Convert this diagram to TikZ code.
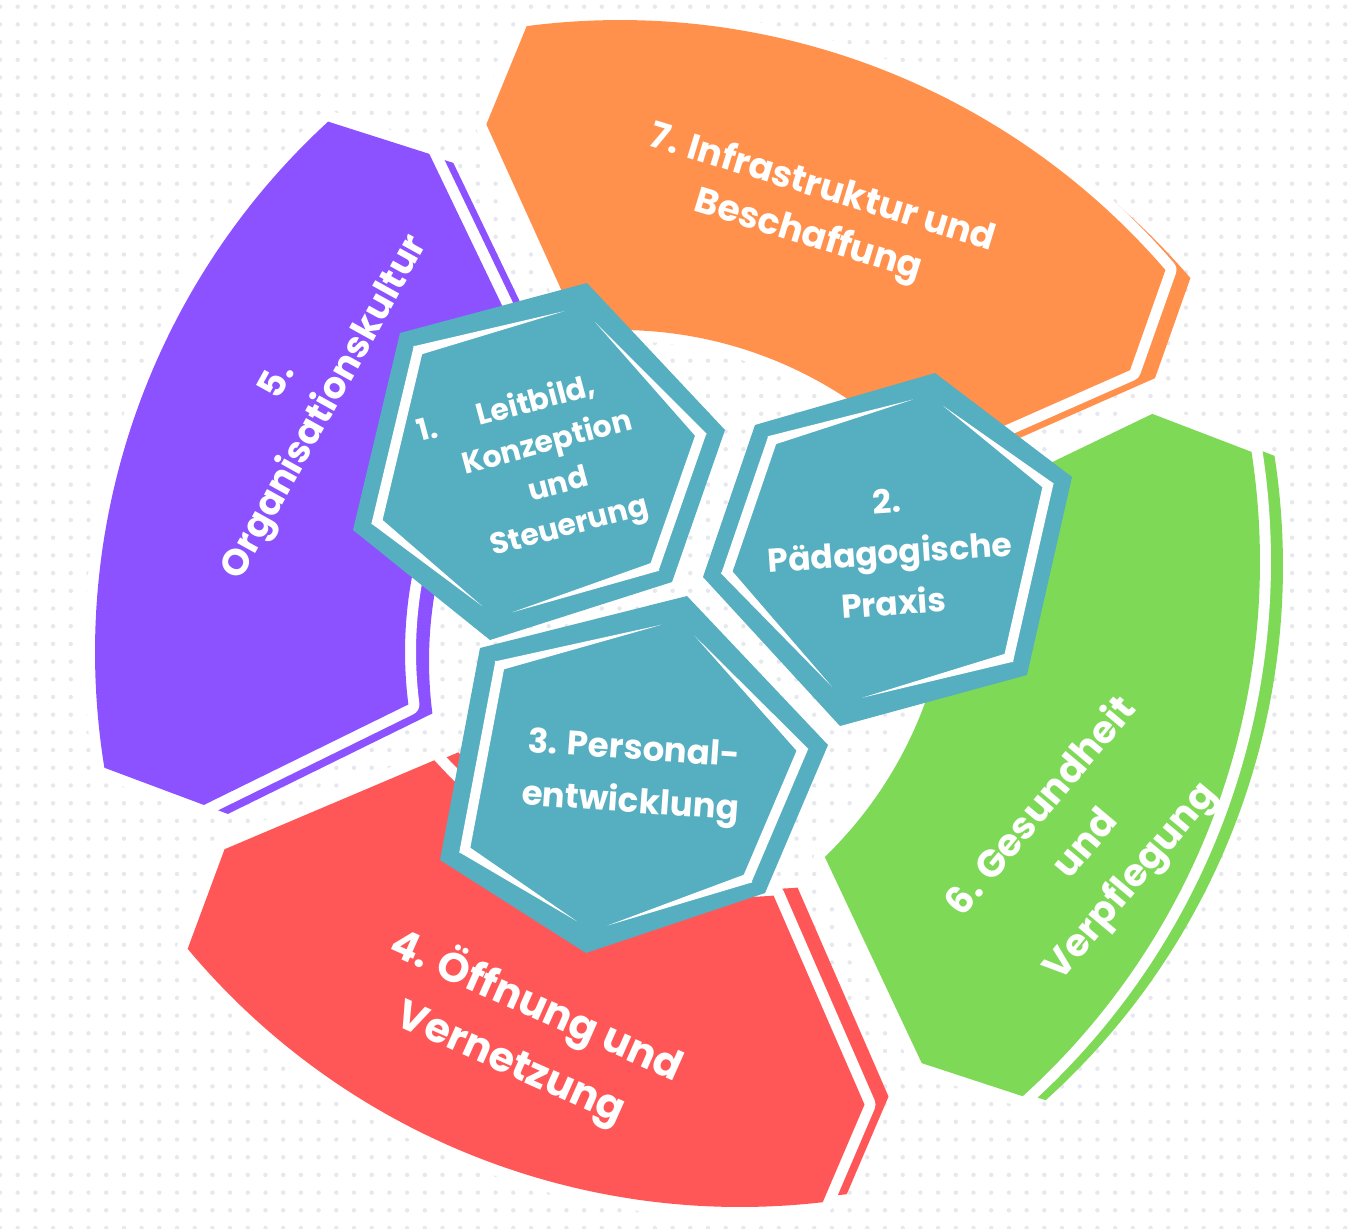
\documentclass[tikz,border=0pt]{standalone}
\usepackage{fontspec}
\setmainfont{Poppins}
\usetikzlibrary{calc,patterns.meta}
\definecolor{segpurple}{HTML}{8C52FF}
\definecolor{segorange}{HTML}{FF914D}
\definecolor{seggreen}{HTML}{7ED957}
\definecolor{segred}{HTML}{FF5757}
\definecolor{hexblue}{HTML}{56AEC1}
\definecolor{dotgrey}{HTML}{E6E8EE}

\begin{document}
\begin{tikzpicture}[x=.5pt,y=-.5pt,
    seglabel/.style={text=white,align=center,font=\bfseries\fontsize{18}{25}\selectfont},
    hexlabel/.style={text=white,align=center,font=\bfseries\fontsize{17}{26}\selectfont}]
  \useasboundingbox (0,0) rectangle (1356,1228);
  \fill[white] (0,0) rectangle (1356,1228);
  \fill[pattern={Dots[distance=8.85pt,radius=1.1pt]},pattern color=dotgrey] (0,0) rectangle (1356,1228);

  % ring segments: centre, start angle, colour, offset of the thin strip
  \foreach \cx/\cy/\a/\col/\sx/\sy [evaluate=\a as \b using \a+54.8] in
      {815/652/-189.25/segpurple/24/9, 620/740/-97.45/segorange/25/8,
       540/562/-8.8/seggreen/23/4, 740/487/83.4/segred/24/-8}
  {
    \begin{scope}[shift={(\cx,\cy)}]
      \fill[\col,shift={(\sx,\sy)}] (\a:720) arc[start angle=\a,delta angle=56.7,radius=720]
        -- ({\a+61.5}:630) -- (\b:410) arc[start angle=\b,delta angle=-52.9,radius=410]
        -- ({\a-4.8}:630) -- cycle;
      \fill[\col,preaction={draw=white,line width=11pt,line join=round}]
        (\a:720) arc[start angle=\a,delta angle=56.7,radius=720]
        -- ({\a+61.5}:630) -- (\b:410) arc[start angle=\b,delta angle=-52.9,radius=410]
        -- ({\a-4.8}:630) -- cycle;
    \end{scope}
  }

  % hexagons
  \coordinate (h1) at (538,466);
  \coordinate (h2) at (887,542);
  \coordinate (h3) at (631,782);
  \foreach \x/\y [count=\k] in {587/283,725/430,672/582,490/640,353/530,400/333}
    \coordinate (h1-\k) at (\x,\y);
  \foreach \x/\y [count=\k] in {935/373,1072/477,1027/675,840/726,703/577,755/425}
    \coordinate (h2-\k) at (\x,\y);
  \foreach \x/\y [count=\k] in {687/596,828/745,765/893,586/953,440/860,480/648}
    \coordinate (h3-\k) at (\x,\y);
  \foreach \h in {h1,h2,h3}
    \fill[hexblue] (\h-1) -- (\h-2) -- (\h-3) -- (\h-4) -- (\h-5) -- (\h-6) -- cycle;

  % brush outline inside the hexagons
  \foreach \h in {h1,h2,h3}
    \foreach \k/\l/\fa/\wa/\fb/\wb in {1/2/.12/0/1.02/2.5, 2/3/-.02/2.5/1.02/2.5,
        3/4/-.02/2.5/.9/0, 4/5/.12/0/1.02/2.5, 5/6/-.02/2.5/1.02/2.5, 6/1/-.02/2.5/.9/0}
    {
      \coordinate (a) at ($(\h)!.87!(\h-\k)$);
      \coordinate (b) at ($(\h)!.87!(\h-\l)$);
      \coordinate (p) at ($(a)!\fa!(b)$);
      \coordinate (q) at ($(a)!\fb!(b)$);
      \fill[white] ($(p)!\wa pt!90:(q)$) -- ($(q)!\wb pt!-90:(p)$)
        -- ($(q)!\wb pt!90:(p)$) -- ($(p)!\wa pt!-90:(q)$) -- cycle;
    }

  \node[seglabel,rotate=-17,font=\bfseries\fontsize{18}{24.5}\selectfont] (t7) at (815,213) {7. Infrastruktur und\\Beschaffung};
  \node[seglabel,rotate=61,font=\bfseries\fontsize{18.5}{27}\selectfont] (t5) at (303,395) {5.\\Organisationskultur};
  \node[seglabel,rotate=50,font=\bfseries\fontsize{19}{29}\selectfont] (t6) at (1087,845) {6. Gesundheit\\und\\Verpflegung};
  \node[seglabel,rotate=-24,font=\bfseries\fontsize{20.5}{31}\selectfont] (t4) at (524,1034) {4. Öffnung und\\Vernetzung};
  \node[hexlabel,rotate=15,font=\bfseries\fontsize{15}{21.5}\selectfont] (t1) at (553,465) {\llap{1.\hspace{21pt}}Leitbild,\\Konzeption\\und\\Steuerung};
  \node[hexlabel,rotate=4,font=\bfseries\fontsize{16.5}{25.5}\selectfont] (t2) at (890,552) {2.\\Pädagogische\\Praxis};
  \node[hexlabel,rotate=-4,font=\bfseries\fontsize{17}{26.5}\selectfont] (t3) at (632,778) {3. Personal-\\entwicklung};
\end{tikzpicture}
\end{document}
